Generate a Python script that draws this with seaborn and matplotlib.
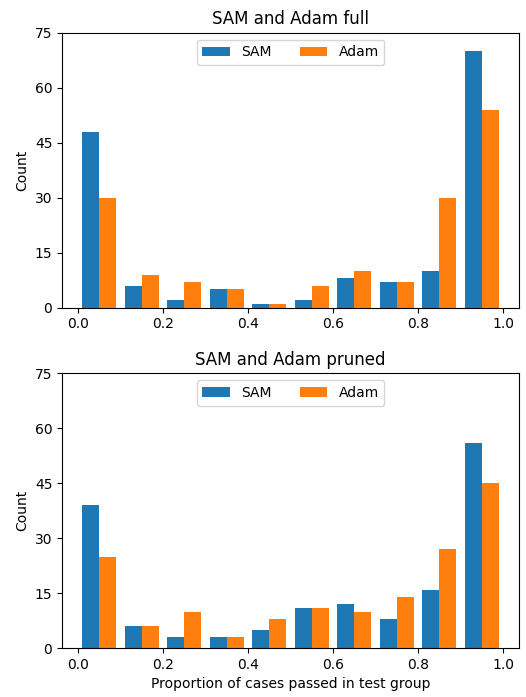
import numpy as np
import matplotlib
matplotlib.use("Agg")
import matplotlib.pyplot as plt
import seaborn as sns

bin_edges = np.linspace(0, 1, 11)
full_sam = [48, 6, 2, 5, 1, 2, 8, 7, 10, 70]
full_adam = [30, 9, 7, 5, 1, 6, 10, 7, 30, 54]
pruned_sam = [39, 6, 3, 3, 5, 11, 12, 8, 16, 56]
pruned_adam = [25, 6, 10, 3, 8, 11, 10, 14, 27, 45]

colors = sns.color_palette("tab10", 2)

fig, axes = plt.subplots(2, 1, figsize=(5.26, 6.97), dpi=100)
panels = [("SAM and Adam full", full_sam, full_adam),
          ("SAM and Adam pruned", pruned_sam, pruned_adam)]

centers = (bin_edges[:-1] + bin_edges[1:]) / 2
w = 0.04
for ax, (title, sam, adam) in zip(axes, panels):
    ax.bar(centers - w / 2, sam, width=w, color=colors[0], label="SAM")
    ax.bar(centers + w / 2, adam, width=w, color=colors[1], label="Adam")
    ax.set_title(title)
    ax.set_ylabel("Count")
    ax.set_ylim(0, 75)
    ax.set_yticks(np.arange(0, 76, 15))
    ax.set_xticks(np.arange(0, 1.01, 0.2))
    ax.set_xlim(-0.038, 1.038)
    ax.legend(loc="upper center", ncol=2)

axes[1].set_xlabel("Proportion of cases passed in test group")
fig.subplots_adjust(left=0.118, right=0.987, top=0.953, bottom=0.07, hspace=0.24)
fig.savefig("out.png", dpi=100)
